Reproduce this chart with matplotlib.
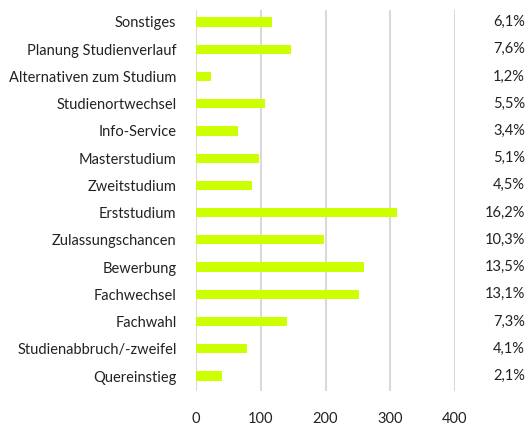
import matplotlib.pyplot as plt

categories = ["Quereinstieg", "Studienabbruch/-zweifel", "Fachwahl", "Fachwechsel",
              "Bewerbung", "Zulassungschancen", "Erststudium", "Zweitstudium",
              "Masterstudium", "Info-Service", "Studienortwechsel",
              "Alternativen zum Studium", "Planung Studienverlauf", "Sonstiges"]
values = [40, 79, 140, 252, 259, 198, 311, 86, 98, 65, 106, 23, 146, 117]
shares = ["2,1%", "4,1%", "7,3%", "13,1%", "13,5%", "10,3%", "16,2%", "4,5%",
          "5,1%", "3,4%", "5,5%", "1,2%", "7,6%", "6,1%"]

plt.rcParams['font.family'] = ['Lato', 'DejaVu Sans']

fig = plt.figure(figsize=(5.32, 4.26), dpi=100)
ax = fig.add_axes([196 / 532, 1 - 391 / 426, (455 - 196) / 532, (391 - 10) / 426])

y = range(len(categories))
ax.barh(y, values, height=0.34, color="#ccff00", zorder=3)

ax.set_xlim(0, 400)
ax.set_ylim(-0.55, len(categories) - 0.56)
ax.set_xticks([0, 100, 200, 300, 400])
ax.set_yticks(list(y))
ax.set_yticklabels(categories)
ax.grid(axis="x", color="#d9d9d9", linewidth=1.5, zorder=0)
ax.grid(axis="y", visible=False)
for s in ax.spines.values():
    s.set_visible(False)
ax.tick_params(axis="both", length=0, labelsize=10.5, colors="#222222")
ax.tick_params(axis="x", pad=15)
ax.tick_params(axis="y", pad=14)
ax.set_axisbelow(True)

for yi, s in zip(y, shares):
    ax.text(1.27, yi, s, transform=ax.get_yaxis_transform(), ha="right",
            va="center", fontsize=10.5, color="#222222")

fig.savefig("out.png", dpi=100)
